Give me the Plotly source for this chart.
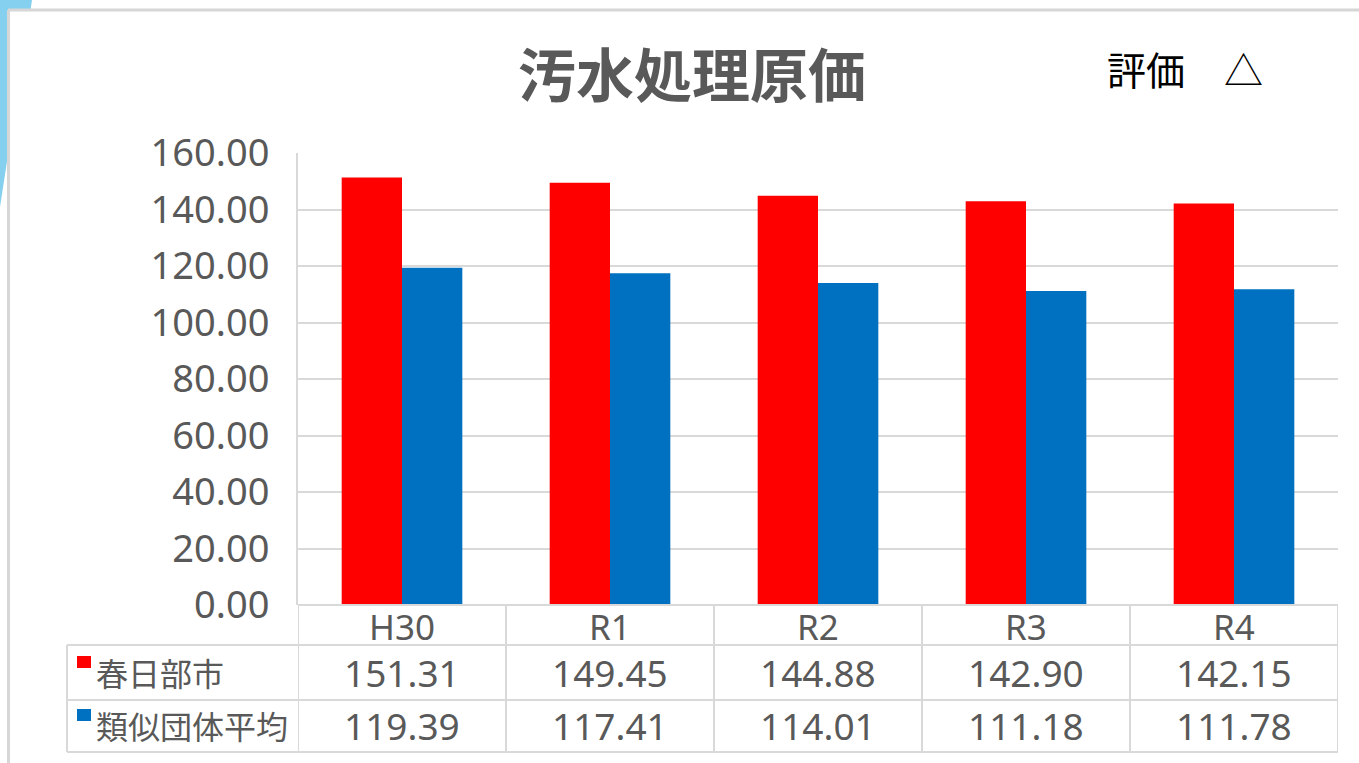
import plotly.graph_objects as go

categories = ["H30", "R1", "R2", "R3", "R4"]
kasukabe = [151.31, 149.45, 144.88, 142.90, 142.15]
similar_avg = [119.39, 117.41, 114.01, 111.18, 111.78]
series_names = ["春日部市", "類似団体平均"]
series_colors = ["#ff0000", "#0070c0"]
title_text = "汚水処理原価"
rating_text = "評価　△"

W, H = 1359, 763
L, R, T, B = 298, 1338, 153, 605
FONT = "Noto Sans, Noto Sans CJK JP, sans-serif"
GREY = "#595959"
LINE = "#d9d9d9"


def px(x):
    return (x - L) / (R - L)


def py(y):
    return (B - y) / (B - T)


fig = go.Figure()
for name, vals, col in zip(series_names, [kasukabe, similar_avg], series_colors):
    fig.add_trace(go.Bar(x=categories, y=vals, name=name, marker_color=col,
                         marker_line_width=0, showlegend=False, hoverinfo="skip"))

shapes = []
# left light-blue decoration
path = "M {},{} L {},{} L {},{} L {},{} L {},{} L {},{} Z".format(
    px(0), py(0), px(32), py(0), px(30.5), py(10), px(8), py(10), px(8), py(155), px(0), py(207))
shapes.append(dict(type="path", xref="paper", yref="paper", path=path,
                   fillcolor="#84d0ee", line_width=0, layer="below"))
# panel border
shapes.append(dict(type="line", xref="paper", yref="paper", x0=px(8), x1=px(1359),
                   y0=py(10), y1=py(10), line=dict(color="#d6d6d6", width=3), layer="below"))
shapes.append(dict(type="line", xref="paper", yref="paper", x0=px(8.5), x1=px(8.5),
                   y0=py(10), y1=py(763), line=dict(color="#d6d6d6", width=3), layer="below"))

# data table lines
row_lines = [645, 700, 752]
for yl in row_lines:
    shapes.append(dict(type="line", xref="paper", yref="paper", x0=px(67), x1=1,
                       y0=py(yl), y1=py(yl), line=dict(color=LINE, width=2)))
shapes.append(dict(type="line", xref="paper", yref="paper", x0=0, x1=1,
                   y0=0, y1=0, line=dict(color=LINE, width=2)))
shapes.append(dict(type="line", xref="paper", yref="paper", x0=px(67), x1=px(67),
                   y0=py(645), y1=py(752), line=dict(color=LINE, width=2)))
for k in range(len(categories) + 1):
    shapes.append(dict(type="line", xref="x", yref="paper", x0=k - 0.5, x1=k - 0.5,
                       y0=0, y1=py(752), line=dict(color=LINE, width=2)))

ann = []
ann.append(dict(text="<b>" + title_text + "</b>", x=px(692), y=py(72), xref="paper", yref="paper",
                showarrow=False, font=dict(family="Noto Sans CJK JP", size=58, color=GREY),
                xanchor="center", yanchor="middle"))
ann.append(dict(text=rating_text, x=px(1105), y=py(68), xref="paper", yref="paper",
                showarrow=False, font=dict(family="Noto Sans CJK JP", size=39, color="#000000"),
                xanchor="left", yanchor="middle"))
for c in categories:
    ann.append(dict(text=c, x=c, y=py(626), xref="x", yref="paper", showarrow=False,
                    font=dict(family=FONT, size=35, color=GREY), xanchor="center", yanchor="middle"))
for name, vals, col, yc in zip(series_names, [kasukabe, similar_avg], series_colors, [672, 725]):
    # legend key square in the table row header
    shapes.append(dict(type="rect", xref="paper", yref="paper", x0=px(77), x1=px(91),
                       y0=py(yc - 4), y1=py(yc - 16), fillcolor=col, line_width=0))
    ann.append(dict(text=name, x=px(94), y=py(yc), xref="paper", yref="paper", showarrow=False,
                    font=dict(family="Noto Sans CJK JP", size=32, color=GREY),
                    xanchor="left", yanchor="middle"))
    for c, v in zip(categories, vals):
        ann.append(dict(text="%.2f" % v, x=c, y=py(yc), xref="x", yref="paper", showarrow=False,
                        font=dict(family=FONT, size=37, color=GREY), xanchor="center", yanchor="middle"))

fig.update_layout(
    width=W, height=H,
    margin=dict(l=L, r=W - R, t=T, b=H - B, pad=0),
    paper_bgcolor="white", plot_bgcolor="rgba(0,0,0,0)",
    barmode="group", bargap=0.42, bargroupgap=0,
    shapes=shapes, annotations=ann,
    font=dict(family=FONT, color=GREY),
    hovermode=False,
)
fig.update_xaxes(showticklabels=False, showgrid=False, showline=False, zeroline=False,
                 range=[-0.5, 4.5])
fig.update_yaxes(range=[0, 160], dtick=20, tickformat=".2f", showgrid=True, gridcolor=LINE,
                 gridwidth=2, zeroline=False, showline=True, linecolor=LINE, linewidth=2,
                 ticklabelstandoff=19, tickfont=dict(family=FONT, size=38, color=GREY))

fig.write_html("out.html", config={"displayModeBar": False},
               post_script="document.body.style.margin='0px';")
